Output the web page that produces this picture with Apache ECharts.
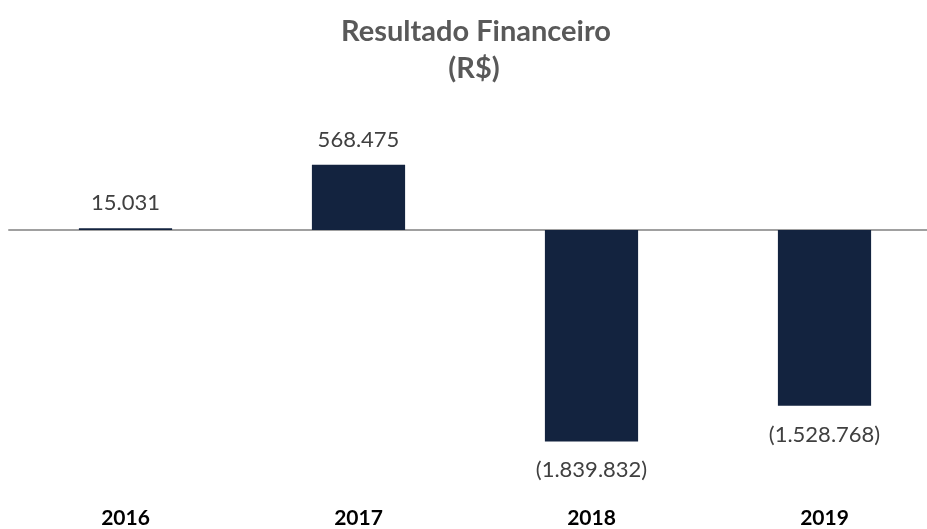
<!DOCTYPE html>
<html>
<head>
<meta charset="utf-8">
<script src="https://cdn.jsdelivr.net/npm/echarts@6/dist/echarts.min.js"></script>
<style>
  html, body { margin: 0; padding: 0; background: #fff; overflow: hidden; }
  #main { width: 950px; height: 529px; }
</style>
</head>
<body>
<div id="main"></div>
<script>
// dados do gráfico
const anos = ['2016', '2017', '2018', '2019']
const resultado = [15031, 568475, -1839832, -1528768]

// 1.234.567 e negativos entre parênteses
function fmt(v) {
  let s = Math.abs(v).toString().replace(/\B(?=(\d{3})+(?!\d))/g, '.')
  return v < 0 ? '(' + s + ')' : s
}

let myChart = echarts.init(document.getElementById('main'))
let option = {
  animation: false,
  title: [
    {
      text: 'Resultado Financeiro',
      left: 471,
      textAlign: 'center',
      top: 12,
      textStyle: { fontFamily: 'Lato', fontSize: 29, fontWeight: 'bold', color: '#595959' },
    },
    {
      text: '(R$)',
      left: 469,
      textAlign: 'center',
      top: 49,
      textStyle: { fontFamily: 'Lato', fontSize: 29, fontWeight: 'bold', color: '#595959' },
    },
  ],
  grid: { left: 9, top: 100, width: 932, height: 405 },
  xAxis: [
    {
      type: 'category',
      data: anos,
      axisLine: { onZero: true, lineStyle: { color: '#a0a0a0', width: 2 } },
      axisTick: { show: false },
      axisLabel: { show: false },
    },
    {
      type: 'category',
      data: anos,
      position: 'bottom',
      axisLine: { show: false, onZero: false },
      axisTick: { show: false },
      axisLabel: {
        margin: 6,
        fontFamily: 'Lato',
        fontSize: 21,
        fontWeight: 'bold',
        color: '#000',
      },
    },
  ],
  yAxis: {
    type: 'value',
    min: -2367360,
    max: 1131840,
    show: false,
    splitLine: { show: false },
  },
  series: [
    {
      type: 'bar',
      data: resultado.map((v) => ({
        value: v,
        label: { position: v < 0 ? 'bottom' : 'top', distance: v < 0 ? 18 : 14 },
      })),
      barWidth: '40%',
      itemStyle: { color: '#13233f' },
      label: {
        show: true,
        fontFamily: 'Lato',
        fontSize: 22,
        color: '#404040',
        formatter: (p) => fmt(p.value),
      },
    },
  ],
}
myChart.setOption(option)
</script>
</body>
</html>
